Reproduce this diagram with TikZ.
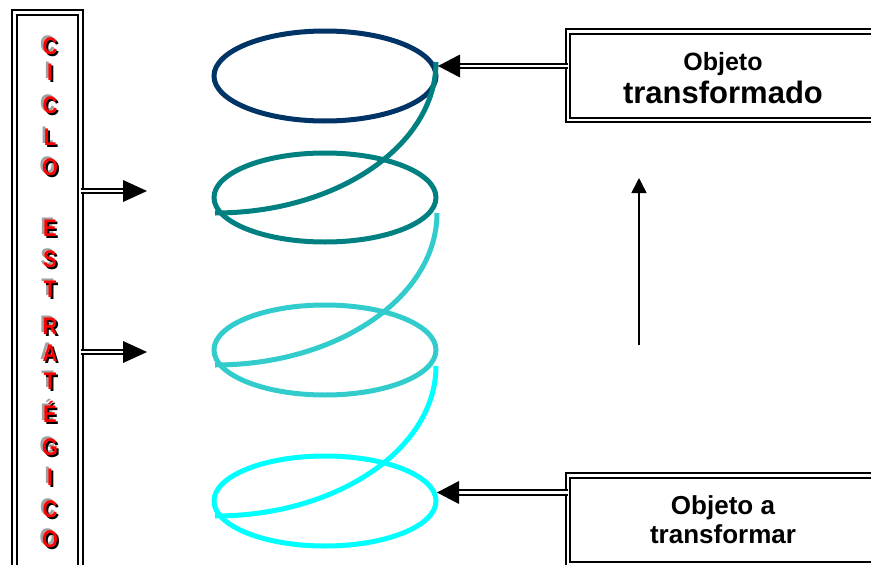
\documentclass[tikz,border=0pt]{standalone}
\usepackage{fontspec}
\setmainfont{Liberation Sans}
\newfontfamily\condfont[FakeStretch=0.85]{Liberation Sans}
\usetikzlibrary{arrows.meta}
\definecolor{navyc}{HTML}{003366}
\definecolor{tealc}{HTML}{008080}
\definecolor{turqc}{HTML}{33CCCC}
\definecolor{cyanc}{HTML}{00FFFF}
\definecolor{shadowgray}{HTML}{A0A0A0}
\definecolor{letterred}{HTML}{FF0000}
\newcommand\shadowedletter[1]{%
  \rlap{\hspace{-2.5pt}\raisebox{1.8pt}{\color{shadowgray}#1}}%
  \rlap{\hspace{2pt}\raisebox{-1.9pt}{\color{black}#1}}%
  {\color{letterred}#1}}
\begin{document}
\begin{tikzpicture}[x=1pt,y=-1pt,
  dblbox/.style={draw=black, double=white, line width=2pt, double distance=2.6pt, inner sep=0pt, outer sep=0pt},
  ring/.style={line width=5pt},
  dblshaft/.style={draw=black, double=white, line width=2pt, double distance=2.4pt},
  headtri/.style={fill=black},
  letr/.style={font=\condfont\fontsize{24}{24}\selectfont\bfseries, inner sep=0pt, anchor=base},
  boxtext/.style={inner sep=0pt, anchor=base, text=black}
]
\useasboundingbox (0,0) rectangle (871,565);
\clip (0,0) rectangle (871,565);

% left framed box
\node[dblbox, minimum width=66pt, minimum height=580pt, anchor=north west] (ciclo) at (14.5,12.5) {};
\foreach \ch/\yy [count=\i] in {C/46,I/72,C/105,L/137,O/167,E/228,S/259,T/289,R/326,A/353,T/381,É/414,G/447,I/477,C/509,O/539} {
  \node[letr] (lr\i) at (50,\yy+8.6) {\shadowedletter{\ch}};
}

% right boxes
\node[dblbox, minimum width=320pt, minimum height=88.7pt, anchor=north west] (obj1) at (568,31.3) {};
\node[dblbox, minimum width=320pt, minimum height=88.7pt, anchor=north west] (obj2) at (568,475.5) {};
\node[boxtext, font=\fontsize{25}{25}\selectfont\bfseries] (t1a) at (723,70) {Objeto};
\node[boxtext, font=\fontsize{31}{31}\selectfont\bfseries] (t1b) at (723,103) {transformado};
\node[boxtext, font=\fontsize{26}{26}\selectfont\bfseries] (t2a) at (723,514) {Objeto a};
\node[boxtext, font=\fontsize{26}{26}\selectfont\bfseries] (t2b) at (723,543) {transformar};

% spiral
\draw[ring, navyc] (325,76) ellipse [x radius=111, y radius=45];
\draw[ring, tealc] (436,62) arc[start angle=0, end angle=90, x radius=221, y radius=151];
\draw[ring, tealc] (325,197.5) ellipse [x radius=111, y radius=44.5];
\draw[ring, turqc] (437,213) arc[start angle=0, end angle=90, x radius=222, y radius=152];
\draw[ring, turqc] (325,350) ellipse [x radius=111, y radius=45];
\draw[ring, cyanc] (436,366) arc[start angle=0, end angle=90, x radius=221, y radius=150];
\draw[ring, cyanc] (325,501) ellipse [x radius=111, y radius=45];

% arrows from the left box
\coordinate (la1) at (147,191);
\coordinate (la2) at (147,352);
\draw[dblshaft] (ciclo.east |- la1) -- ([xshift=-22pt]la1);
\fill[headtri] (la1) -- ++(-24,-11) -- ++(0,22) -- cycle;
\draw[dblshaft] (ciclo.east |- la2) -- ([xshift=-22pt]la2);
\fill[headtri] (la2) -- ++(-24,-11) -- ++(0,22) -- cycle;

% arrows from the right boxes
\coordinate (ra1) at (438,66);
\coordinate (ra2) at (437,492.5);
\draw[dblshaft] (obj1.west |- ra1) -- ([xshift=20pt]ra1);
\fill[headtri] (ra1) -- ++(22,-11.5) -- ++(0,23) -- cycle;
\draw[dblshaft] (obj2.west |- ra2) -- ([xshift=20pt]ra2);
\fill[headtri] (ra2) -- ++(22,-11.5) -- ++(0,23) -- cycle;

% vertical arrow
\coordinate (vb) at (639,345);
\coordinate (vt) at (639,178);
\draw[line width=1.5pt, -{Triangle[length=15pt,width=15pt]}] (vb) -- (vt);
\end{tikzpicture}
\end{document}
